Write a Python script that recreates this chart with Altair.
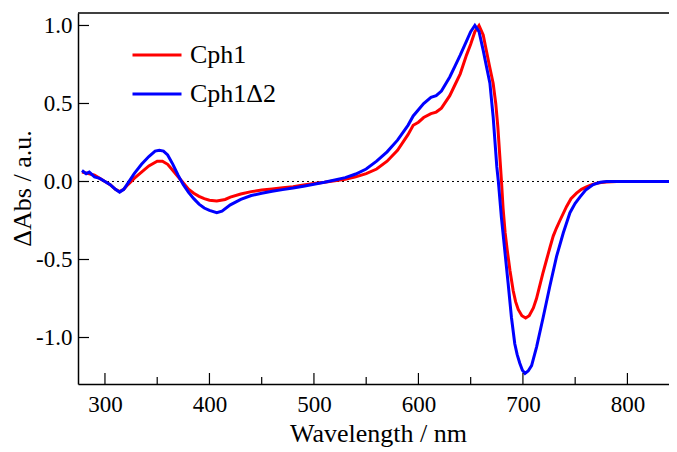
import altair as alt
import pandas as pd

# Cph1 (red)
wl_cph1 = [278, 285, 290, 295, 300, 305, 310, 314, 318, 322, 328, 335, 342, 350, 355, 360, 365, 370, 375, 380,
           385, 390, 395, 400, 407, 415, 420, 430, 440, 450, 460, 470, 480, 490, 500, 510, 520, 530, 540, 550,
           560, 570, 580, 590, 595, 600, 605, 612, 617, 622, 630, 635, 640, 646, 650, 654, 658, 662, 665, 668,
           671.5, 674, 676, 678, 679.5, 681, 683, 685, 687.6, 690.7, 693, 695.5, 699, 702.6, 706, 710, 713, 716,
           719, 722.7, 726, 729, 732, 735.4, 741.8, 746, 751.3, 756, 760.8, 766, 770, 775, 780, 790, 800, 810,
           820, 830, 840, 848]
abs_cph1 = [0.06, 0.05, 0.04, 0.02, 0.0, -0.02, -0.05, -0.065, -0.05, -0.02, 0.02, 0.06, 0.10, 0.13, 0.13, 0.11, 0.07, 0.03, -0.01, -0.05,
            -0.075, -0.095, -0.11, -0.12, -0.125, -0.115, -0.10, -0.08, -0.065, -0.055, -0.048, -0.04, -0.033, -0.022, -0.013, -0.005, 0.005, 0.015, 0.03, 0.05,
            0.08, 0.13, 0.20, 0.30, 0.36, 0.38, 0.41, 0.435, 0.445, 0.47, 0.55, 0.62, 0.69, 0.81, 0.88, 0.96, 1.0, 0.94, 0.84, 0.74,
            0.63, 0.50, 0.35, 0.15, 0.0, -0.17, -0.33, -0.44, -0.57, -0.70, -0.77, -0.82, -0.86, -0.875, -0.86, -0.81, -0.75, -0.67,
            -0.59, -0.50, -0.42, -0.35, -0.30, -0.25, -0.16, -0.11, -0.075, -0.05, -0.035, -0.02, -0.012, -0.006, -0.003, 0.0, 0.0, 0.0,
            0.0, 0.0, 0.0, 0.0]

# Cph1Δ2 (blue)
wl_d2 = [278, 282, 285, 290, 295, 300, 305, 310, 314, 318, 322, 328, 335, 342, 348, 352, 356, 360, 365, 370,
         375, 380, 385, 390, 395, 400, 407, 412, 420, 430, 440, 450, 460, 470, 480, 490, 500, 510, 520, 530,
         540, 550, 560, 570, 580, 590, 595, 600, 605, 612, 617, 622, 630, 635, 640, 646, 650, 654, 658, 662,
         665, 668.4, 671.5, 675, 676.5, 679.4, 682.6, 685.8, 689, 692.2, 694.5, 697, 699.5, 702, 705, 708.3, 713.1, 719.4,
         725.8, 732.2, 738.6, 745, 750, 754.5, 760, 767.3, 774, 780, 790, 800, 810, 820, 830, 840, 848]
abs_d2 = [0.07, 0.05, 0.06, 0.03, 0.02, 0.0, -0.02, -0.05, -0.068, -0.05, -0.01, 0.05, 0.11, 0.16, 0.195, 0.20, 0.195, 0.17, 0.11, 0.04,
          -0.02, -0.07, -0.11, -0.145, -0.17, -0.185, -0.20, -0.19, -0.15, -0.115, -0.09, -0.075, -0.063, -0.052, -0.042, -0.03, -0.018, -0.005, 0.01, 0.025,
          0.048, 0.08, 0.13, 0.19, 0.265, 0.36, 0.42, 0.46, 0.50, 0.54, 0.55, 0.58, 0.67, 0.74, 0.81, 0.90, 0.96, 1.0, 0.96, 0.84,
          0.74, 0.63, 0.415, 0.095, 0.0, -0.23, -0.44, -0.65, -0.87, -1.04, -1.11, -1.165, -1.21, -1.23, -1.215, -1.18, -1.06, -0.87,
          -0.67, -0.48, -0.33, -0.20, -0.14, -0.10, -0.055, -0.02, -0.005, 0.0, 0.0, 0.0, 0.0, 0.0, 0.0, 0.0, 0.0]

series_names = ["Cph1", "Cph1Δ2"]
series_colors = ["#ff0000", "#0000ff"]

x_major = [300, 400, 500, 600, 700, 800]
x_minor = [350, 450, 550, 650, 750]
y_major = [-1.0, -0.5, 0.0, 0.5, 1.0]

X_DOMAIN = [274.2, 839.8]
Y_DOMAIN = [-1.298, 1.08]
W, H = 591, 371
FONT = "Liberation Serif"

df = pd.concat([
    pd.DataFrame({"wl": wl_cph1, "abs": abs_cph1, "series": series_names[0], "order": 0}),
    pd.DataFrame({"wl": wl_d2, "abs": abs_d2, "series": series_names[1], "order": 1}),
])

xscale = alt.Scale(domain=X_DOMAIN, nice=False, zero=False)
yscale = alt.Scale(domain=Y_DOMAIN, nice=False, zero=False)
xaxis = alt.Axis(title="Wavelength / nm", values=x_major, ticks=False, grid=False,
                 labelPadding=9, titlePadding=4, format="d",
                 labelFont=FONT, titleFont=FONT, titleX=300, titleAlign="center")
yaxis = alt.Axis(title="ΔAbs / a.u.", values=y_major, ticks=False, grid=False,
                 labelPadding=6, titlePadding=0, labelFont=FONT, titleFont=FONT,
                 titleY=175, titleAlign="center",
                 labelExpr="datum.value < 0 ? '-' + format(-datum.value, '.1f') : format(datum.value, '.1f')")

lines = alt.Chart(df).mark_line(strokeWidth=3, clip=True).encode(
    x=alt.X("wl:Q", scale=xscale, axis=xaxis, title="Wavelength / nm"),
    y=alt.Y("abs:Q", scale=yscale, axis=yaxis, title="ΔAbs / a.u."),
    color=alt.Color("series:N", scale=alt.Scale(domain=series_names, range=series_colors),
                    legend=alt.Legend(title=None, orient="none", legendX=53, legendY=16,
                                      symbolType="stroke", symbolSize=2401, symbolStrokeWidth=3,
                                      labelFont=FONT, labelFontSize=26, labelColor="black",
                                      rowPadding=-25, labelOffset=7)),
    detail="series:N",
    order="order:Q",
)

zero_df = pd.DataFrame({"y": [0.0]})
zero_line = alt.Chart(zero_df).mark_rule(color="black", strokeWidth=1, strokeDash=[2, 3]).encode(
    y=alt.Y("y:Q", scale=yscale, axis=yaxis, title="ΔAbs / a.u.")
)

xmaj_df = pd.DataFrame({"t": x_major})
xmin_df = pd.DataFrame({"t": x_minor})
ymaj_df = pd.DataFrame({"t": y_major})

xmaj_ticks = alt.Chart(xmaj_df).mark_rule(color="black", strokeWidth=1.2).encode(
    x=alt.X("t:Q", scale=xscale, axis=xaxis, title="Wavelength / nm"), y=alt.value(H), y2=alt.value(H - 11))
xmin_ticks = alt.Chart(xmin_df).mark_rule(color="black", strokeWidth=1.2).encode(
    x=alt.X("t:Q", scale=xscale, axis=xaxis, title="Wavelength / nm"), y=alt.value(H), y2=alt.value(H - 7))
ymaj_ticks = alt.Chart(ymaj_df).mark_rule(color="black", strokeWidth=1.2).encode(
    y=alt.Y("t:Q", scale=yscale, axis=yaxis, title="ΔAbs / a.u."), x=alt.value(0), x2=alt.value(11))
top_border = alt.Chart(zero_df).mark_rule(color="black", strokeWidth=1.5).encode(
    x=alt.value(0), x2=alt.value(W), y=alt.value(0))

chart = alt.layer(zero_line, lines, xmaj_ticks, xmin_ticks, ymaj_ticks, top_border).properties(
    width=W, height=H,
    autosize=alt.AutoSizeParams(type="none"),
    padding={"left": 70, "top": 5, "right": 0, "bottom": 68},
).configure(font=FONT).configure_view(stroke=None).configure_axis(
    domainColor="black", domainWidth=1.5,
    labelFont=FONT, labelFontSize=23, labelColor="black",
    titleFont=FONT, titleFontSize=26, titleFontWeight="normal", titleColor="black",
).configure_legend(labelFont=FONT)

chart.save("out.html", embed_options={"renderer": "svg", "actions": False})
